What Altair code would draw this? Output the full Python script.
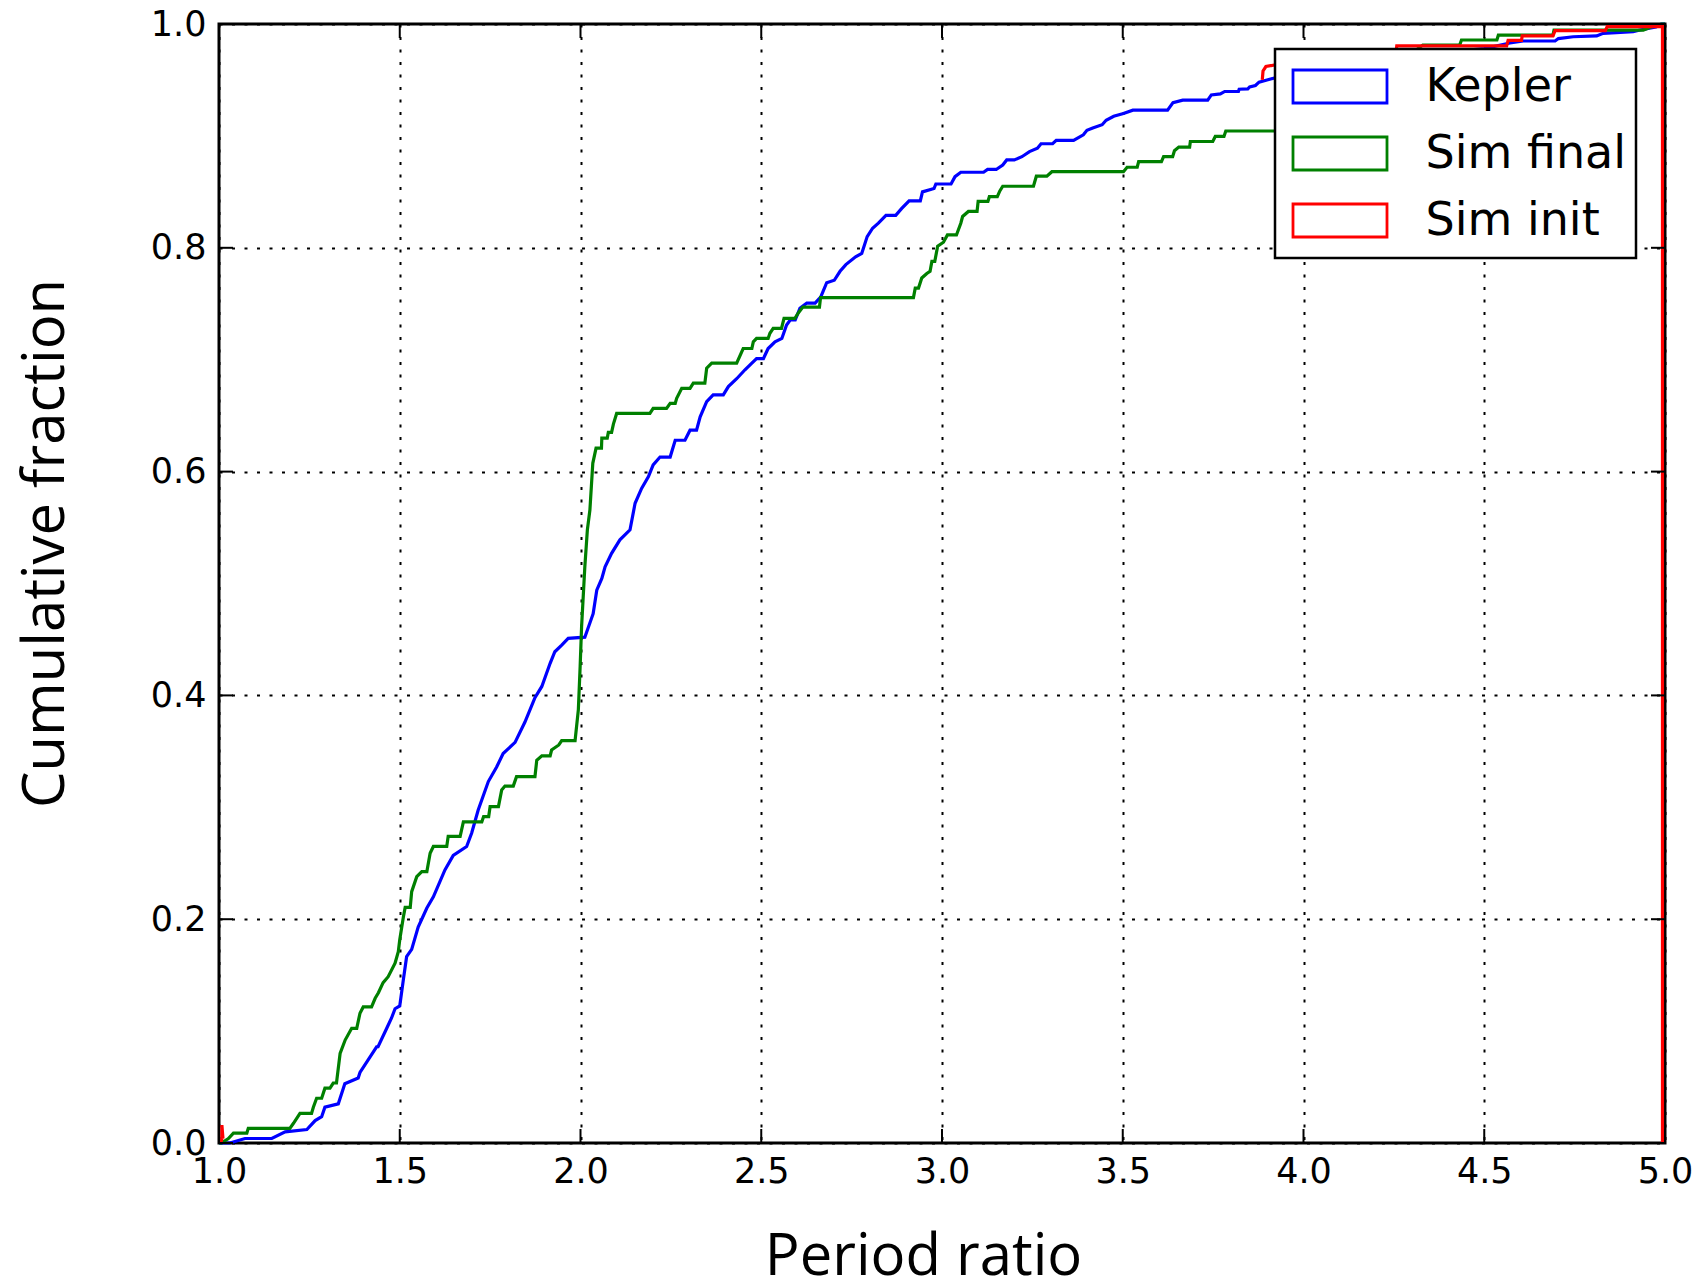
import altair as alt
import pandas as pd

# ---------------- data ----------------
kepler_x = [1.0, 1.007, 1.03, 1.072, 1.146, 1.183, 1.243, 1.266, 1.284, 1.293, 1.33, 1.344, 1.348, 1.385, 1.39,
            1.418, 1.436, 1.44, 1.464, 1.477, 1.487, 1.50, 1.51, 1.519, 1.533, 1.551, 1.575, 1.593, 1.625, 1.648,
            1.685, 1.699, 1.717, 1.745, 1.768, 1.786, 1.819, 1.846, 1.874, 1.893, 1.916, 1.929, 1.948, 1.966,
            2.012, 2.035, 2.045, 2.059, 2.068, 2.086, 2.109, 2.137, 2.151, 2.169, 2.188, 2.201, 2.22, 2.248,
            2.262, 2.289, 2.303, 2.321, 2.331, 2.349, 2.367, 2.395, 2.409, 2.432, 2.455, 2.474, 2.487, 2.506,
            2.519, 2.538, 2.557, 2.57, 2.58, 2.594, 2.607, 2.626, 2.649, 2.665, 2.681, 2.702, 2.718, 2.734,
            2.761, 2.778, 2.793, 2.808, 2.824, 2.845, 2.872, 2.888, 2.909, 2.94, 2.946, 2.978, 2.983, 3.025,
            3.036, 3.052, 3.115, 3.126, 3.15, 3.168, 3.179, 3.2, 3.221, 3.242, 3.264, 3.274, 3.306, 3.316,
            3.364, 3.391, 3.401, 3.417, 3.443, 3.454, 3.475, 3.502, 3.528, 3.624, 3.639, 3.666, 3.735, 3.745,
            3.77, 3.782, 3.82, 3.822, 3.846, 3.851, 3.867, 3.877, 3.899, 4.0, 4.3, 4.5, 4.571, 4.608, 4.696,
            4.705, 4.746, 4.811, 4.829, 4.912, 4.931, 4.975, 4.99, 5.0]
kepler_y = [0.0, 0.0, 0.0, 0.004, 0.004, 0.010, 0.012, 0.020, 0.0235, 0.032, 0.035, 0.049, 0.053, 0.058, 0.063,
            0.077, 0.086, 0.086, 0.1025, 0.1115, 0.120, 0.1225, 0.146, 0.1665, 0.173, 0.193, 0.21, 0.22, 0.244,
            0.257, 0.265, 0.277, 0.2976, 0.323, 0.336, 0.348, 0.358, 0.376, 0.398, 0.408, 0.4287, 0.439, 0.445,
            0.451, 0.452, 0.473, 0.494, 0.5046, 0.515, 0.527, 0.539, 0.548, 0.5717, 0.585, 0.5955, 0.606, 0.613,
            0.613, 0.628, 0.628, 0.637, 0.637, 0.649, 0.6625, 0.6685, 0.6685, 0.676, 0.683, 0.691, 0.697, 0.701,
            0.701, 0.710, 0.716, 0.719, 0.731, 0.7355, 0.7355, 0.746, 0.7506, 0.7506, 0.7563, 0.7688, 0.771,
            0.779, 0.785, 0.792, 0.795, 0.810, 0.8175, 0.822, 0.829, 0.829, 0.835, 0.842, 0.842, 0.850, 0.853,
            0.857, 0.857, 0.8636, 0.8675, 0.8675, 0.870, 0.870, 0.874, 0.8785, 0.8785, 0.8814, 0.886, 0.889,
            0.893, 0.893, 0.896, 0.896, 0.901, 0.905, 0.907, 0.910, 0.914, 0.9175, 0.920, 0.923, 0.923, 0.9297,
            0.932, 0.932, 0.9366, 0.9375, 0.9397, 0.9397, 0.9417, 0.942, 0.9437, 0.945, 0.948, 0.950, 0.958,
            0.972, 0.978, 0.983, 0.9848, 0.9848, 0.987, 0.9886, 0.9893, 0.9917, 0.9932, 0.9946, 0.9973, 1.0, 1.0]

simfinal_x = [1.0, 1.007, 1.026, 1.04, 1.077, 1.081, 1.196, 1.206, 1.224, 1.256, 1.261, 1.27, 1.284, 1.293, 1.307,
              1.316, 1.325, 1.335, 1.349, 1.367, 1.381, 1.39, 1.399, 1.422, 1.432, 1.441, 1.454, 1.468, 1.487,
              1.496, 1.50, 1.51, 1.515, 1.529, 1.533, 1.547, 1.561, 1.575, 1.584, 1.593, 1.63, 1.634, 1.667,
              1.676, 1.727, 1.732, 1.746, 1.75, 1.773, 1.782, 1.791, 1.814, 1.823, 1.874, 1.879, 1.893, 1.916,
              1.92, 1.94, 1.948, 1.985, 1.994, 1.999, 2.003, 2.012, 2.019, 2.026, 2.034, 2.043, 2.058, 2.059,
              2.074, 2.077, 2.086, 2.091, 2.1, 2.192, 2.201, 2.238, 2.248, 2.262, 2.266, 2.28, 2.303, 2.312,
              2.344, 2.349, 2.363, 2.432, 2.45, 2.474, 2.478, 2.487, 2.519, 2.524, 2.533, 2.556, 2.563, 2.593,
              2.603, 2.615, 2.661, 2.664, 2.921, 2.926, 2.935, 2.944, 2.958, 2.967, 2.972, 2.98, 2.988, 3.004,
              3.015, 3.04, 3.052, 3.057, 3.073, 3.097, 3.1, 3.127, 3.131, 3.153, 3.16, 3.168, 3.253, 3.261,
              3.29, 3.304, 3.502, 3.512, 3.54, 3.544, 3.607, 3.613, 3.638, 3.643, 3.655, 3.685, 3.687, 3.749,
              3.756, 3.78, 3.785, 3.95, 4.2, 4.33, 4.359, 4.432, 4.437, 4.535, 4.539, 4.69, 4.693, 4.94, 4.963,
              4.99, 5.0]
simfinal_y = [0.0, 0.0, 0.004, 0.0089, 0.0089, 0.0131, 0.0131, 0.0176, 0.0265, 0.0265, 0.032, 0.040, 0.040, 0.049,
              0.049, 0.0536, 0.0536, 0.080, 0.092, 0.1025, 0.1025, 0.116, 0.1216, 0.1216, 0.1293, 0.1343, 0.1433,
              0.1486, 0.1606, 0.171, 0.1816, 0.202, 0.2106, 0.2106, 0.2246, 0.238, 0.2426, 0.2426, 0.259, 0.265,
              0.265, 0.274, 0.274, 0.287, 0.287, 0.2917, 0.2917, 0.3006, 0.3006, 0.3155, 0.319, 0.319, 0.3274,
              0.3274, 0.342, 0.346, 0.346, 0.3512, 0.3557, 0.3596, 0.3596, 0.387, 0.4257, 0.4614, 0.515, 0.548,
              0.5657, 0.6074, 0.621, 0.621, 0.630, 0.630, 0.635, 0.635, 0.6425, 0.652, 0.652, 0.6565, 0.6565,
              0.661, 0.661, 0.6655, 0.6744, 0.6744, 0.679, 0.679, 0.6924, 0.697, 0.697, 0.710, 0.710, 0.716,
              0.719, 0.719, 0.7236, 0.728, 0.728, 0.737, 0.737, 0.742, 0.747, 0.747, 0.7555, 0.7555, 0.764, 0.764,
              0.773, 0.777, 0.779, 0.7878, 0.7878, 0.8015, 0.805, 0.8115, 0.8115, 0.822, 0.828, 0.8325, 0.8325,
              0.8415, 0.8415, 0.8457, 0.8457, 0.8508, 0.855, 0.855, 0.864, 0.864, 0.868, 0.868, 0.872, 0.872,
              0.877, 0.877, 0.8815, 0.8815, 0.8868, 0.890, 0.890, 0.895, 0.895, 0.8995, 0.8995, 0.9044, 0.9044,
              0.95, 0.9812, 0.9812, 0.9812, 0.9857, 0.9857, 0.990, 0.990, 0.9946, 0.9946, 0.9976, 1.0, 1.0]

# Sim init: only its visible pieces (the rest lies under the other curves / the legend)
siminit_x = [1.005, 1.008, 1.008, 1.011,
             3.886, 3.888, 3.896, 3.93,
             4.256, 4.258, 4.562, 4.566, 4.603, 4.605, 4.69, 4.696, 4.835, 4.84, 4.993, 4.993]
siminit_y = [0.0, 0.004, 0.016, 0.004,
             0.950, 0.958, 0.962, 0.964,
             0.975, 0.9804, 0.9804, 0.9853, 0.9853, 0.9893, 0.9893, 0.9941, 0.9941, 0.9976, 0.9976, 0.0]
siminit_seg = [1, 1, 1, 1, 2, 2, 2, 2, 3, 3, 3, 3, 3, 3, 3, 3, 3, 3, 3, 3]

series_names = ["Kepler", "Sim final", "Sim init"]
series_colors = ["#0000ff", "#008000", "#ff0000"]
x_ticks = [1.0, 1.5, 2.0, 2.5, 3.0, 3.5, 4.0, 4.5, 5.0]
y_ticks = [0.0, 0.2, 0.4, 0.6, 0.8, 1.0]

# ---------------- tables ----------------
rows = []
for i, (x, y) in enumerate(zip(kepler_x, kepler_y)):
    rows.append({"x": x, "y": y, "series": "Kepler", "seg": "k", "i": i})
for i, (x, y) in enumerate(zip(simfinal_x, simfinal_y)):
    rows.append({"x": x, "y": y, "series": "Sim final", "seg": "f", "i": i})
for i, (x, y, s) in enumerate(zip(siminit_x, siminit_y, siminit_seg)):
    rows.append({"x": x, "y": y, "series": "Sim init", "seg": "r%d" % s, "i": i})
df = pd.DataFrame(rows)
xt = pd.DataFrame({"x": x_ticks})
yt = pd.DataFrame({"y": y_ticks})

W, H = 1446, 1119
TICK = 14

grid_kw = dict(grid=True, gridColor="black", gridDash=[3, 9.5], gridWidth=2, gridOpacity=1,
               ticks=False, domain=False, labelFont="DejaVu Sans", labelFontSize=35, labelColor="black",
               labelFlush=False, labelOverlap=False, labelBound=False,
               titleFont="Open Sans", titleFontSize=58, titleFontWeight="normal", titleColor="black",
               titleBaseline="alphabetic", titleAlign="center", format=".1f")

x_enc = alt.X("x:Q", scale=alt.Scale(domain=[1, 5], nice=False, zero=False),
              axis=alt.Axis(values=x_ticks, title="Period ratio", labelPadding=39,
                            labelBaseline="alphabetic", titleX=704, titleY=131, **grid_kw))
y_enc = alt.Y("y:Q", scale=alt.Scale(domain=[0, 1], nice=False, zero=False),
              axis=alt.Axis(values=y_ticks, title="Cumulative fraction", labelPadding=13,
                            titleX=-156, titleY=519, titleAngle=270, **grid_kw))

stroke_enc = alt.Stroke(
    "series:N",
    scale=alt.Scale(domain=series_names, range=series_colors),
    legend=alt.Legend(title=None, orient="none", legendX=1056, legendY=25,
                      symbolType="M-1,-0.351H1V0.351H-1Z", symbolSize=8836, symbolStrokeWidth=2.8,
                      symbolFillColor="transparent", symbolOpacity=1,
                      labelFont="DejaVu Sans", labelFontSize=46, labelColor="black", labelLimit=400,
                      labelOffset=37, symbolOffset=7.5, padding=9, clipHeight=57, rowPadding=10,
                      strokeColor="black", fillColor="white"),
)

base = alt.Chart(df).mark_line(strokeWidth=3.2).encode(
    x=x_enc, y=y_enc, stroke=stroke_enc, detail="seg:N", order="i:Q"
)
kepler = base.transform_filter(alt.datum.series == "Kepler")
simfin = base.transform_filter(alt.datum.series == "Sim final")
siminit = base.transform_filter(alt.datum.series == "Sim init")

tick_style = dict(color="black", strokeWidth=2)
t_bottom = alt.Chart(xt).mark_rule(**tick_style).encode(x=x_enc, y=alt.value(H), y2=alt.value(H - TICK))
t_top = alt.Chart(xt).mark_rule(**tick_style).encode(x=x_enc, y=alt.value(0), y2=alt.value(TICK))
t_left = alt.Chart(yt).mark_rule(**tick_style).encode(y=y_enc, x=alt.value(0), x2=alt.value(TICK))
t_right = alt.Chart(yt).mark_rule(**tick_style).encode(y=y_enc, x=alt.value(W), x2=alt.value(W - TICK))

chart = alt.layer(kepler, simfin, siminit, t_bottom, t_top, t_left, t_right).properties(
    width=W, height=H,
    autosize=alt.AutoSizeParams(type="none"),
    padding={"left": 219, "top": 24, "right": 38, "bottom": 141},
).configure_view(stroke="black", strokeWidth=3).configure_legend(strokeWidth=2.5)

chart.save("out.html", embed_options={"renderer": "svg", "actions": False})
